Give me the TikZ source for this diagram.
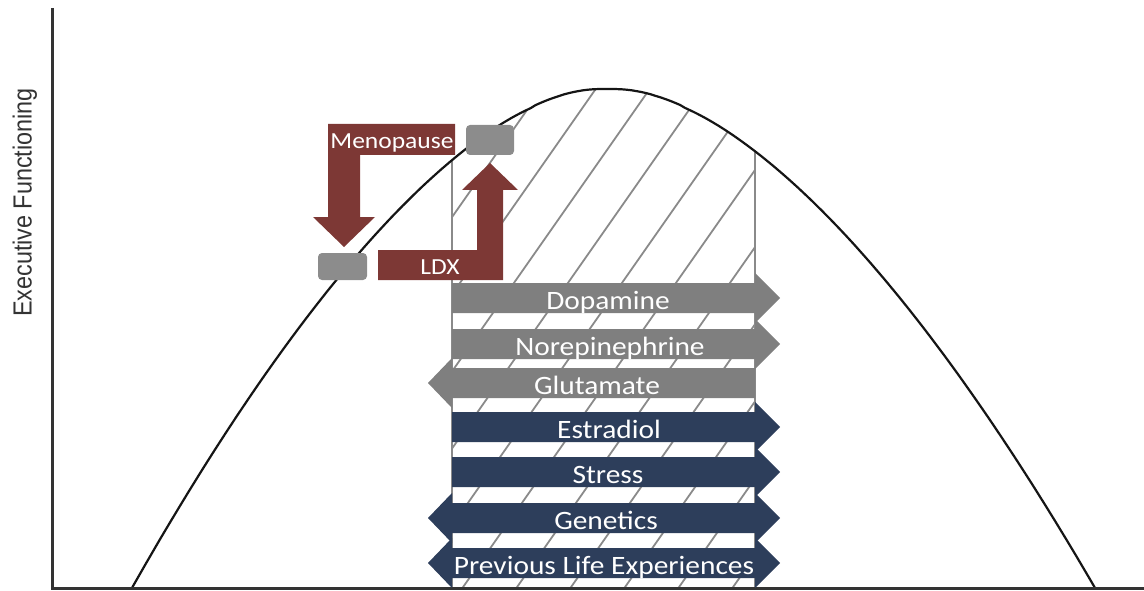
\documentclass[tikz,border=0pt]{standalone}
\usepackage{fontspec}
\newfontfamily\barfont[FakeStretch=1.11]{Carlito}
\newfontfamily\axfont{Liberation Sans}
\definecolor{bargray}{HTML}{7F7F7F}
\definecolor{barnavy}{HTML}{2D3E5B}
\definecolor{barred}{HTML}{7D3835}
\definecolor{boxgray}{HTML}{8C8C8C}
\definecolor{hatchgray}{HTML}{8A8A8A}
\definecolor{axisgray}{HTML}{333333}
\definecolor{curveblack}{HTML}{151515}
\newcommand{\rightbar}[2]{\fill[#2] (452,#1-15) -- (755,#1-15) -- (755,#1-25) -- (780,#1) -- (755,#1+25) -- (755,#1+15) -- (452,#1+15) -- cycle;}
\newcommand{\leftbar}[2]{\fill[#2] (755,#1-15) -- (452,#1-15) -- (452,#1-25) -- (428,#1) -- (452,#1+25) -- (452,#1+15) -- (755,#1+15) -- cycle;}
\newcommand{\bothbar}[2]{\fill[#2] (428,#1) -- (452,#1-25) -- (452,#1-15) -- (755,#1-15) -- (755,#1-25) -- (780,#1) -- (755,#1+25) -- (755,#1+15) -- (452,#1+15) -- (452,#1+25) -- cycle;}
\begin{document}
\begin{tikzpicture}[x=1pt,y=-1pt,
  lbl/.style={text=white, font=\barfont\fontsize{26.5}{30}\selectfont, anchor=base, inner sep=0pt},
  redlbl/.style={text=white, font=\barfont\fontsize{23}{26}\selectfont, anchor=base, inner sep=0pt},
  gbox/.style={fill=boxgray, rounded corners=4pt, inner sep=0pt},
  hatchline/.style={hatchgray, line width=1.8pt}]
\useasboundingbox (0,0) rectangle (1144,591);

% hatched region under the curve
\begin{scope}
  \clip plot[domain=1:0.01, samples=100, variable=\t] ({607-475*\t},{89+499*pow((sqrt(\t*\t+0.0016)-0.04)/0.9608,1.62)}) -- plot[domain=0.01:1, samples=100, variable=\t] ({607+488*\t},{89+499*pow((sqrt(\t*\t+0.0016)-0.04)/0.9608,1.62)}) -- cycle;
  \begin{scope}
    \clip (452,0) rectangle (755,600);
    \foreach \k in {-3,...,9} \draw[hatchline] (292+54*\k,600) -- (656+54*\k,80);
  \end{scope}
  \draw[hatchline] (452,600) -- (452,0);
  \draw[hatchline] (755,600) -- (755,0);
\end{scope}

% curve
\draw[curveblack, line width=2.2pt, line join=round] plot[domain=1:0.01, samples=100, variable=\t] ({607-475*\t},{89+499*pow((sqrt(\t*\t+0.0016)-0.04)/0.9608,1.62)}) -- plot[domain=0.01:1, samples=100, variable=\t] ({607+488*\t},{89+499*pow((sqrt(\t*\t+0.0016)-0.04)/0.9608,1.62)});

% axes
\coordinate (ytop) at (52,8);
\coordinate (origin) at (52,588);
\coordinate (xend) at (1144,588);
\draw[axisgray, line width=3pt] (ytop) -- (origin) -- (xend);
\node[rotate=90, anchor=base, inner sep=0pt, text=axisgray, font=\axfont\fontsize{23.4}{26}\selectfont] (ylab) at (31.7,202.5) {\scalebox{1}[1.12]{Executive Functioning}};

% bars
\rightbar{298}{bargray}
\rightbar{344}{bargray}
\leftbar{383}{bargray}
\rightbar{427}{barnavy}
\rightbar{472}{barnavy}
\bothbar{518}{barnavy}
\bothbar{563}{barnavy}
\node[lbl] (dopa) at (608,309) {Dopamine};
\node[lbl] (norepi) at (610,355) {Norepinephrine};
\node[lbl] (gluta) at (597,394) {Glutamate};
\node[lbl] (estra) at (609,438) {Estradiol};
\node[lbl] (stress) at (608,483) {Stress};
\node[lbl] (genet) at (606,529) {Genetics};
\node[lbl] (prev) at (604,574) {Previous Life Experiences};

% red bent arrows
\fill[barred] (455,124) -- (328,124) -- (328,217) -- (313,217) -- (344,247) -- (375,217) -- (360,217) -- (360,155) -- (455,155) -- cycle;
\fill[barred] (378,250) -- (477,250) -- (477,190) -- (462,190) -- (490,163) -- (518,190) -- (503,190) -- (503,280) -- (378,280) -- cycle;
\node[redlbl] (meno) at (392,149) {Menopause};
\node[redlbl] (ldx) at (440,274) {LDX};

% grey markers on the curve
\node[gbox, minimum width=49pt, minimum height=27pt] (boxlow) at (342.5,266.5) {};
\node[gbox, minimum width=48pt, minimum height=30pt] (boxhigh) at (490,140) {};
\end{tikzpicture}
\end{document}
